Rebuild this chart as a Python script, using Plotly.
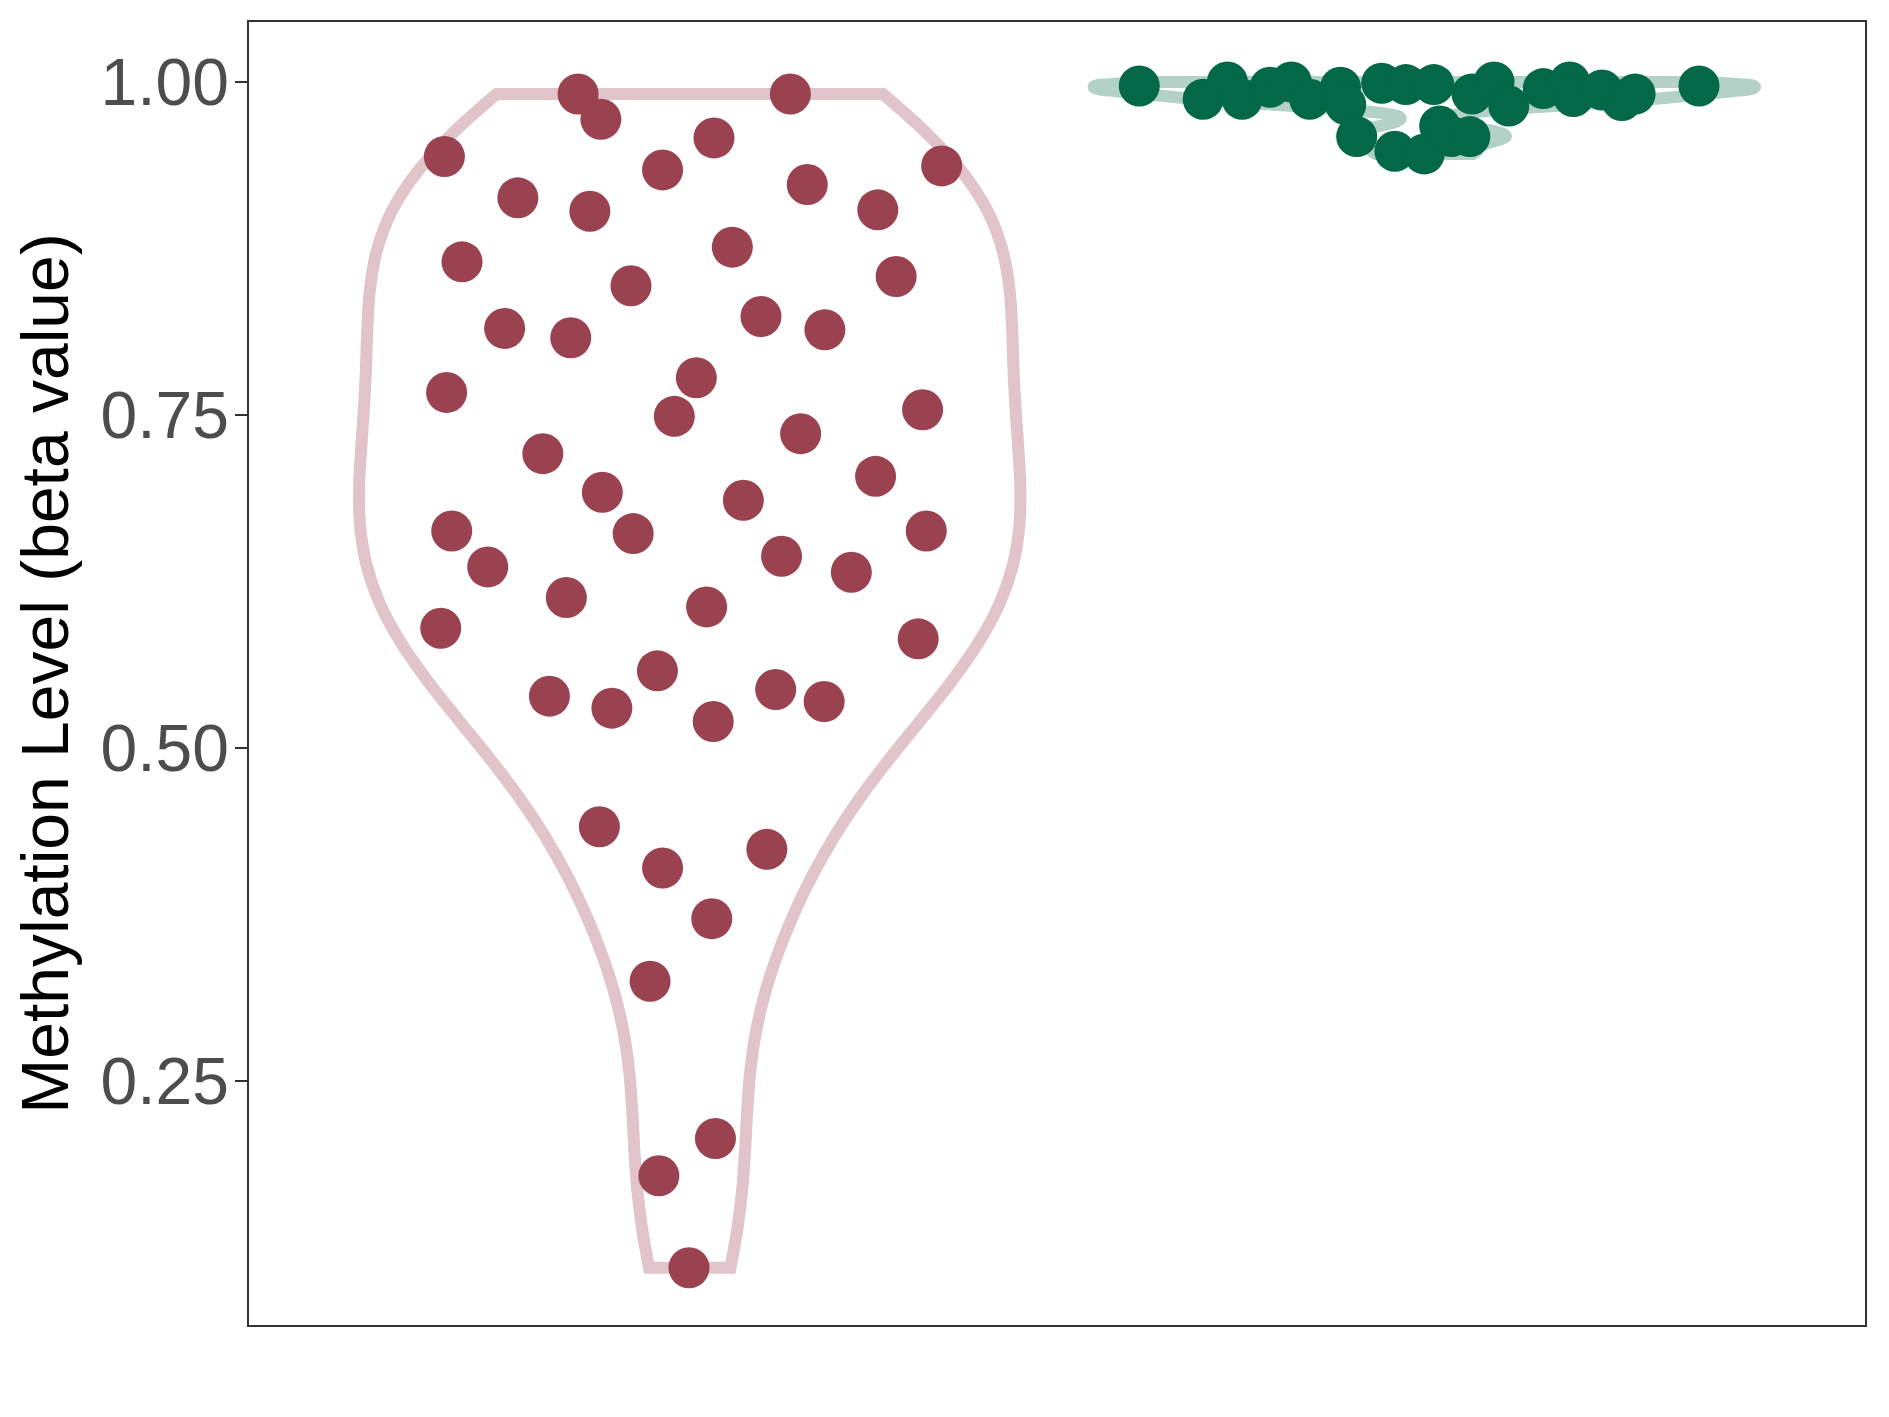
import numpy as np
import plotly.graph_objects as go

# --- data -------------------------------------------------------------------
# group 1 (red): beta values and the horizontal jitter of each dot
group1_beta = [
    0.944, 0.991, 0.972, 0.991, 0.958, 0.934, 0.937, 0.913, 0.903, 0.923,
    0.904, 0.876, 0.865, 0.847, 0.854, 0.815, 0.808, 0.824, 0.814, 0.767,
    0.778, 0.749, 0.754, 0.736, 0.721, 0.692, 0.704, 0.686, 0.663, 0.661,
    0.663, 0.636, 0.644, 0.632, 0.613, 0.606, 0.590, 0.582, 0.558, 0.539,
    0.530, 0.544, 0.535, 0.520, 0.441, 0.424, 0.410, 0.372, 0.325, 0.207,
    0.179, 0.110,
]
group1_jitter = [
    -0.334, -0.152, -0.121, 0.137, 0.033, -0.037, 0.343, -0.234, -0.136, 0.160,
    0.256, 0.058, -0.310, -0.080, 0.281, -0.252, -0.162, 0.097, 0.184, -0.331,
    0.009, -0.021, 0.317, 0.151, -0.200, -0.119, 0.253, 0.073, -0.324, -0.077,
    0.322, -0.275, 0.125, 0.220, -0.168, 0.023, -0.339, 0.311, -0.044, -0.191,
    -0.106, 0.117, 0.183, 0.032, -0.123, 0.105, -0.037, 0.030, -0.054, 0.035,
    -0.042, -0.001,
]

# group 2 (green)
group2_beta = [
    0.997, 0.987, 1.000, 0.987, 0.996, 1.000, 0.987, 0.996, 0.983, 0.959,
    0.999, 0.948, 0.998, 0.946, 0.998, 0.967, 0.959, 0.959, 0.991, 1.000,
    0.982, 0.995, 1.000, 0.989, 0.994, 0.986, 0.991, 0.997,
]
group2_jitter = [
    -0.388, -0.301, -0.268, -0.248, -0.210, -0.181, -0.156, -0.114, -0.107, -0.092,
    -0.058, -0.040, -0.025, 0.000, 0.013, 0.021, 0.037, 0.062, 0.065, 0.095,
    0.115, 0.162, 0.198, 0.203, 0.242, 0.269, 0.287, 0.374,
]

y_ticks = [0.25, 0.50, 0.75, 1.00]
y_tick_labels = ["0.25", "0.50", "0.75", "1.00"]

# --- colours ------------------------------------------------------------------
RED_DOT = "#9A4250"
RED_LINE = "#E0C4C9"
GREEN_DOT = "#026847"
GREEN_LINE = "#B4D1C7"
FRAME = "#333333"
TICK_TEXT = "#4D4D4D"
FONT = "Liberation Sans, Arial, Helvetica, sans-serif"


def nrd0(values):
    # R's bw.nrd0, as ggplot's geom_violin uses
    v = np.asarray(values, dtype=float)
    sd = v.std(ddof=1)
    iqr = np.subtract(*np.percentile(v, [75, 25]))
    return 0.9 * min(sd, iqr / 1.34) * len(v) ** -0.2


def violin(values, pos, line_color):
    return go.Violin(
        y=values, x0=pos, width=0.9, scalemode="width", spanmode="hard",
        bandwidth=nrd0(values), points=False, box_visible=False, meanline_visible=False,
        fillcolor="rgba(0,0,0,0)", line=dict(color=line_color, width=12),
        showlegend=False, hoverinfo="skip", orientation="v",
    )


def dots(values, jitter, pos, color):
    return go.Scatter(
        x=[pos + j for j in jitter], y=values, mode="markers",
        marker=dict(size=41, color=color, line=dict(width=0)),
        showlegend=False, hoverinfo="y",
    )


fig = go.Figure()
fig.add_trace(violin(group1_beta, 1, RED_LINE))
fig.add_trace(violin(group2_beta, 2, GREEN_LINE))
fig.add_trace(dots(group1_beta, group1_jitter, 1, RED_DOT))
fig.add_trace(dots(group2_beta, group2_jitter, 2, GREEN_DOT))

# the page body adds an 8px offset, so margins are trimmed on the left/top
fig.update_layout(
    width=1889, height=1417,
    paper_bgcolor="white", plot_bgcolor="white",
    margin=dict(l=241, r=32, t=14, b=100),
    font=dict(family=FONT, color="black"),
    showlegend=False,
)
fig.update_xaxes(
    range=[0.4, 2.6], showticklabels=False, ticks="", showgrid=False, zeroline=False,
    showline=True, mirror=True, linecolor=FRAME, linewidth=1.5,
)
fig.update_yaxes(
    range=[0.067, 1.045], tickvals=y_ticks, ticktext=y_tick_labels,
    ticks="outside", ticklen=12, tickwidth=2, tickcolor=FRAME, ticklabelstandoff=-7,
    tickfont=dict(size=66, color=TICK_TEXT, family=FONT),
    showgrid=False, zeroline=False,
    showline=True, mirror=True, linecolor=FRAME, linewidth=1.5,
    title=dict(text="Methylation Level (beta value)", font=dict(size=66, color="black", family=FONT), standoff=12),
)

fig.write_html("out.html")
